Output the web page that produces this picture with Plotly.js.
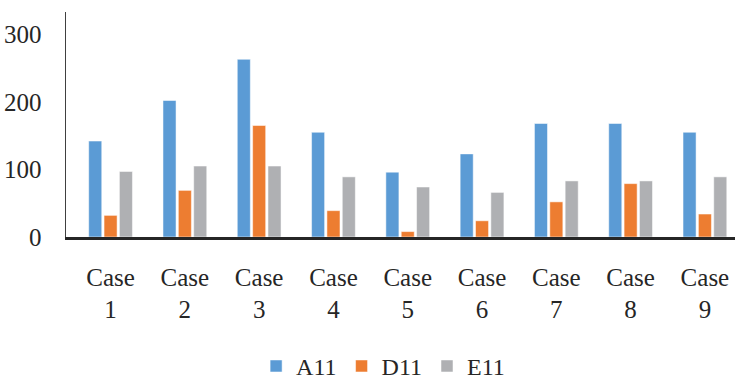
<!DOCTYPE html>
<html>
<head>
<meta charset="utf-8">
<script src="https://cdn.plot.ly/plotly-3.0.1.min.js"></script>
<style>html,body{margin:0;padding:0;background:#fff;}#chart{width:735px;height:382px;}</style>
</head>
<body>
<div id="chart"></div>
<script>
const categories = ["Case<br>1","Case<br>2","Case<br>3","Case<br>4","Case<br>5","Case<br>6","Case<br>7","Case<br>8","Case<br>9"];
const seriesNames = ["A11","D11","E11"];
const a11 = [142, 202, 263, 155, 96, 123, 168, 168, 155];
const d11 = [32, 69, 165, 39, 8, 24, 52, 79, 34];
const e11 = [97, 105, 105, 89, 74, 66, 83, 83, 89];
const colors = ["#5B9BD5", "#ED7D31", "#AFB0B3"];
const yTicks = [0, 100, 200, 300];

const FONT = "'Liberation Serif', 'DejaVu Serif', serif";
const values = [a11, d11, e11];
const traces = values.map((v, i) => ({
  type: "bar",
  name: seriesNames[i],
  x: categories,
  y: v,
  marker: {color: colors[i], line: {color: "rgba(255,255,255,0.5)", width: 1}},
  hoverinfo: "skip"
}));

const layout = {
  width: 735, height: 382,
  margin: {l: 66, r: 0, t: 12, b: 145, pad: 0, autoexpand: false},
  paper_bgcolor: "#fff", plot_bgcolor: "#fff",
  barmode: "group", bargap: 0.38, bargroupgap: 0.15,
  font: {family: FONT, size: 25, color: "#262626"},
  showlegend: true,
  legend: {orientation: "h", x: 0.474, xanchor: "center", y: -0.575, yanchor: "middle",
           font: {family: FONT, size: 24, color: "#262626"}, traceorder: "normal"},
  xaxis: {
    type: "category", range: [-0.6, 8.405], automargin: false,
    showline: true, linecolor: "#262626", linewidth: 2.5,
    showgrid: false, zeroline: false, ticks: "",
    ticklabelstandoff: 16,
    tickfont: {family: FONT, size: 25, color: "#262626"}
  },
  yaxis: {
    range: [0, 333], tickvals: yTicks, ticktext: yTicks.map(String), automargin: false,
    showline: true, linecolor: "#404040", linewidth: 1.5,
    showgrid: false, zeroline: false, ticks: "",
    ticklabelstandoff: 18,
    tickfont: {family: FONT, size: 25, color: "#262626"}
  }
};
Plotly.newPlot("chart", traces, layout, {displayModeBar: false, staticPlot: true});
</script>
</body>
</html>
